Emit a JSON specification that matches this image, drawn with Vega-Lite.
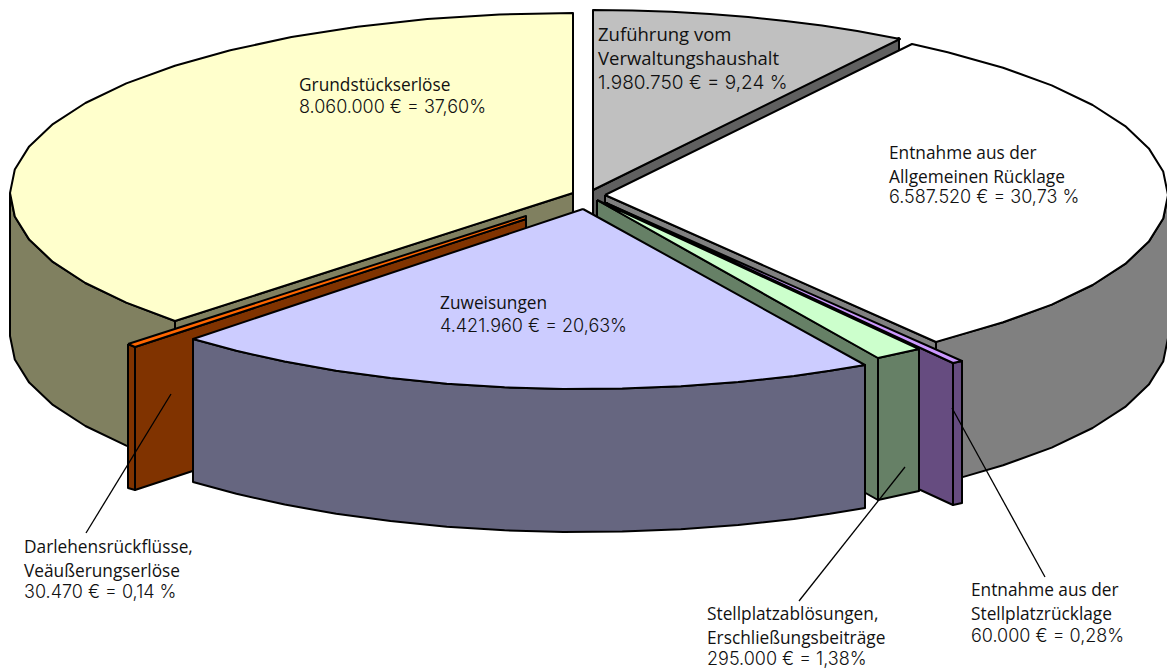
{
"$schema":"https://vega.github.io/schema/vega-lite/v6.json",
"width":1167,"height":672,"padding":0,
"autosize":{"type":"fit","contains":"padding"},
"background":"white",
"view":{"stroke":null},
"layer":[
{"data":{"values":[
{"part":"Zuführung cut","x":[593,899,899,593,593],"y":[190,38,181,333,190]},
{"part":"Zuführung top","x":[593,593,632.3,671.4,710,748.2,785.5,822,857.3,900,593],"y":[190,10,10.4,11.7,14,17,20.9,25.6,31,39,190]},
{"part":"Rücklage side","x":[1168,1163.2,1148.8,1125.2,1092.6,1051.7,1003.1,966.9,936,936,966.9,1003.1,1051.7,1092.6,1125.2,1148.8,1163.2,1168,1168],"y":[195,218.5,241.6,263.9,285,304.6,322.3,332.9,341.6,484.6,475.9,465.3,447.6,428,406.9,384.6,361.5,338,195]},
{"part":"Rücklage cut","x":[605,936,936,605,605],"y":[195,342,485,338,195]},
{"part":"Rücklage top","x":[605,912,947.7,1003.1,1051.7,1092.6,1125.2,1148.8,1163.2,1168,1163.2,1148.8,1125.2,1092.6,1051.7,1003.1,966.9,936,605],"y":[195,44,52.2,67.7,85.4,105,126.1,148.4,171.5,195,218.5,241.6,263.9,285,304.6,322.3,332.9,342,195]},
{"part":"Grundstück side","x":[10,14.8,29.2,52.9,85.4,126.3,175,175,126.3,85.4,52.9,29.2,14.8,10,10],"y":[193,216.5,239.6,261.9,283,302.6,321,464,445.6,426,404.9,382.6,359.5,336,193]},
{"part":"Grundstück cut","x":[573,175,175,573,573],"y":[193,321,464,336,193]},
{"part":"Grundstück top","x":[573,573,499.5,427.3,357.5,291.5,230.3,174.9,126.3,85.4,52.9,29.2,14.8,10,14.8,29.2,52.9,85.4,126.3,175,573],"y":[193,13,14.5,19.1,26.7,37.1,50.2,65.7,83.4,103,124.1,146.4,169.5,193,216.5,239.6,261.9,283,302.6,321,193]},
{"part":"Darlehen side","x":[128,135,135,128,128],"y":[344,347,490,488,344]},
{"part":"Darlehen cut","x":[135,526,526,135,135],"y":[347,219,361,490,347]},
{"part":"Darlehen top","x":[128,526,526,135,128],"y":[344,216,219,347,344]},
{"part":"Stellplatzrücklage cut","x":[606,953,953,606,606],"y":[203,363,505,345,203]},
{"part":"Stellplatzrücklage side","x":[953,962,962,953,953],"y":[363,361,503,505,363]},
{"part":"Stellplatzrücklage top","x":[606,962,953,606],"y":[203,361,363,203]},
{"part":"Stellplatzablösung side","x":[878,919,919,878,878],"y":[358,349,491,500,358]},
{"part":"Stellplatzablösung cut","x":[597,878,878,597,597],"y":[200,358,500,342,200]},
{"part":"Stellplatzablösung top","x":[597,878,919,597],"y":[200,358,349,200]},
{"part":"Zuweisungen side","x":[193,236.4,284.7,336.2,390.5,446.8,504.6,563.4,622.3,680.8,738.2,793.9,829.8,865,865,829.8,793.9,738.2,680.8,622.3,563.4,504.6,446.8,390.5,336.2,284.7,236.4,193,193],"y":[339,350.8,361.6,370.8,378.1,383.7,387.3,388.9,388.6,386.3,382,375.9,370.8,365,508,513.8,518.9,525,529.3,531.6,531.9,530.3,526.7,521.1,513.8,504.6,493.8,482,339]},
{"part":"Zuweisungen top","x":[583,193,236.4,284.7,336.2,390.5,446.8,504.6,563.4,622.3,680.8,738.2,793.9,829.8,865,583],"y":[209,339,350.8,361.6,370.8,378.1,383.7,387.3,388.9,388.6,386.3,382,375.9,370.8,365,209]}
]},
"transform":[{"flatten":["x","y"]},{"window":[{"op":"row_number","as":"vertex"}]}],
"mark":{"type":"line","stroke":"black","strokeWidth":2,"strokeJoin":"round","clip":true},
"encoding":{
"x":{"field":"x","type":"quantitative","scale":{"domain":[0,1167],"nice":false,"zero":false},"axis":null},
"y":{"field":"y","type":"quantitative","scale":{"domain":[672,0],"nice":false,"zero":false},"axis":null},
"detail":{"field":"part"},
"order":{"field":"vertex","type":"quantitative"},
"fill":{"field":"part","type":"nominal","legend":null,"scale":{
"domain":["Zuführung cut","Zuführung top","Rücklage side","Rücklage cut","Rücklage top","Grundstück side","Grundstück cut","Grundstück top","Darlehen side","Darlehen cut","Darlehen top","Stellplatzrücklage cut","Stellplatzrücklage side","Stellplatzrücklage top","Stellplatzablösung side","Stellplatzablösung cut","Stellplatzablösung top","Zuweisungen side","Zuweisungen top"],
"range":["#606060","#C0C0C0","#808080","#808080","#FFFFFF","#808060","#808060","#FFFFCC","#803300","#803300","#FF6600","#664C80","#664C80","#CC99FF","#668066","#668066","#CCFFCC","#666680","#CCCCFF"]}}
}},
{"data":{"values":[
{"x":171,"y":394,"x2":86,"y2":533},
{"x":905,"y":467,"x2":799,"y2":601},
{"x":952,"y":408,"x2":1045,"y2":577}
]},
"mark":{"type":"rule","color":"black","strokeWidth":1.3},
"encoding":{
"x":{"field":"x","type":"quantitative"},"y":{"field":"y","type":"quantitative"},
"x2":{"field":"x2"},"y2":{"field":"y2"}
}},
{"data":{"values":[
{"x":299,"y":77,"slice":"Grundstückserlöse","label":"Grundstückserlöse"},
{"x":598,"y":26,"slice":"Zuführung","label":"Zuführung vom\nVerwaltungshaushalt"},
{"x":889,"y":145,"slice":"Rücklage","label":"Entnahme aus der\nAllgemeinen Rücklage"},
{"x":440,"y":295,"slice":"Zuweisungen","label":"Zuweisungen"},
{"x":24,"y":539,"slice":"Darlehen","label":"Darlehensrückflüsse,\nVeäußerungserlöse"},
{"x":707,"y":606,"slice":"Stellplatzablösungen","label":"Stellplatzablösungen,\nErschließungsbeiträge"},
{"x":971,"y":582,"slice":"Stellplatzrücklage","label":"Entnahme aus der\nStellplatzrücklage"}
]},
"mark":{"type":"text","align":"left","baseline":"top","font":"Open Sans","lineHeight":24,"lineBreak":"\n","color":"#111111"},
"encoding":{
"x":{"field":"x","type":"quantitative"},"y":{"field":"y","type":"quantitative"},
"text":{"field":"label"},
"size":{"condition":{"test":"datum.slice==='Zuführung'","value":18.5},"value":17.3}
}},
{"data":{"values":[
{"x":299,"y":108,"slice":"Grundstückserlöse","label":"8.060.000 € = 37,60%"},
{"x":598,"y":83,"slice":"Zuführung","label":"1.980.750 € = 9,24 %"},
{"x":889,"y":198,"slice":"Rücklage","label":"6.587.520 € = 30,73 %"},
{"x":440,"y":327,"slice":"Zuweisungen","label":"4.421.960 € = 20,63%"},
{"x":24,"y":593,"slice":"Darlehen","label":"30.470 € = 0,14 %"},
{"x":707,"y":660,"slice":"Stellplatzablösungen","label":"295.000 € = 1,38%"},
{"x":971,"y":637,"slice":"Stellplatzrücklage","label":"60.000 € = 0,28%"}
]},
"mark":{"type":"text","align":"left","baseline":"middle","font":"Inter","fontWeight":300,"color":"#111111"},
"encoding":{
"x":{"field":"x","type":"quantitative"},"y":{"field":"y","type":"quantitative"},
"text":{"field":"label"},
"size":{"condition":{"test":"datum.slice==='Zuführung'","value":19},"value":18}
}}
]
}
